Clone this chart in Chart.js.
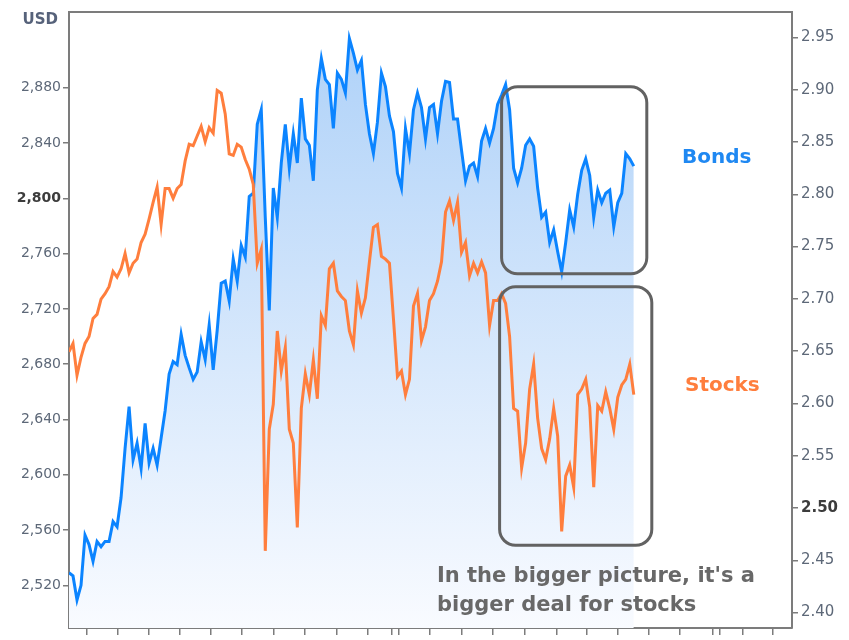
<!DOCTYPE html>
<html>
<head>
<meta charset="utf-8">
<script src="https://cdn.jsdelivr.net/npm/chart.js@4/dist/chart.umd.min.js"></script>
<style>
  html, body { margin: 0; padding: 0; background: #fff; }
  #wrap { position: relative; width: 849px; height: 640px; }
</style>
</head>
<body>
<div id="wrap"><canvas id="chart"></canvas></div>
<script>
// ============ DATA ============
// one sample every few minutes of trading, left to right
const stocks = [
  2689, 2695, 2672, 2685, 2695, 2700, 2713, 2716, 2727, 2731,
  2736, 2747, 2743, 2749, 2760, 2746, 2753, 2756, 2768, 2774,
  2785, 2797, 2808, 2781, 2807, 2807, 2800, 2807, 2810, 2827,
  2839, 2838, 2845, 2852, 2841, 2851, 2847, 2878, 2876, 2861,
  2832, 2831, 2839, 2837, 2828, 2821, 2810, 2753, 2763, 2545,
  2633, 2651, 2704, 2675, 2692, 2633, 2623, 2562, 2648, 2673,
  2658, 2683, 2655, 2715, 2708, 2749, 2753, 2733, 2729, 2726,
  2704, 2694, 2733, 2717, 2728, 2754, 2779, 2781, 2758, 2756,
  2753, 2713, 2671, 2675, 2658, 2669, 2722, 2731, 2697, 2707,
  2726, 2731, 2740, 2754, 2790, 2798, 2784, 2797, 2761, 2768,
  2744, 2753, 2746, 2754, 2746, 2708, 2726, 2726, 2731, 2724,
  2700, 2648, 2646, 2605, 2623, 2662, 2680, 2641, 2619, 2611,
  2626, 2648, 2628, 2559, 2599, 2607, 2591, 2658, 2662, 2669,
  2649, 2591, 2650, 2646, 2660, 2648, 2633, 2656, 2665, 2669,
  2680, 2658
];
const bonds = [
  2.438, 2.435, 2.412, 2.426, 2.474, 2.465, 2.449, 2.468, 2.463, 2.468,
  2.468, 2.487, 2.482, 2.510, 2.557, 2.597, 2.546, 2.562, 2.538, 2.581,
  2.543, 2.557, 2.541, 2.567, 2.593, 2.628, 2.640, 2.637, 2.666, 2.646,
  2.634, 2.623, 2.630, 2.659, 2.642, 2.675, 2.632, 2.670, 2.715, 2.717,
  2.698, 2.738, 2.717, 2.751, 2.740, 2.798, 2.801, 2.867, 2.881, 2.778,
  2.689, 2.806, 2.778, 2.830, 2.867, 2.825, 2.858, 2.830, 2.892, 2.853,
  2.847, 2.813, 2.900, 2.930, 2.910, 2.905, 2.863, 2.916, 2.910, 2.897,
  2.949, 2.935, 2.919, 2.928, 2.886, 2.858, 2.839, 2.869, 2.916, 2.903,
  2.875, 2.860, 2.820, 2.806, 2.863, 2.839, 2.881, 2.897, 2.883, 2.853,
  2.883, 2.886, 2.858, 2.889, 2.908, 2.907, 2.872, 2.872, 2.842, 2.813,
  2.827, 2.830, 2.817, 2.851, 2.863, 2.849, 2.863, 2.886, 2.895, 2.905,
  2.881, 2.825, 2.811, 2.825, 2.847, 2.853, 2.846, 2.806, 2.778, 2.783,
  2.754, 2.766, 2.745, 2.726, 2.754, 2.785, 2.769, 2.800, 2.823, 2.834,
  2.818, 2.778, 2.804, 2.792, 2.801, 2.804, 2.769, 2.792, 2.801, 2.839,
  2.834, 2.827
];
const sessions = stocks.map((_, i) => i);

const usdTicks = [2520, 2560, 2600, 2640, 2680, 2720, 2760, 2800, 2840, 2880];
const yieldTicks = [2.40, 2.45, 2.50, 2.55, 2.60, 2.65, 2.70, 2.75, 2.80, 2.85, 2.90, 2.95];
const timeTicks = [4.5, 12.25, 20, 27.75, 35.5, 43.25, 51, 58.75, 66.75, 74.5, 80.5, 82.25, 90,
  98, 105.75, 113.75, 121.75, 129.25, 137, 144.75, 152.5, 160.75, 162.5, 168.25, 175.75];

// ============ STYLE ============
const FONT = 'DejaVu Sans';
const FRAME = '#7c7c7c';
const TICK_TXT = '#5d6878';
const BLUE = '#0b84ff';
const ORANGE = '#ff7e3d';

function isBold(c, bold) {
  return c.tick && Math.abs(c.tick.value - bold) < 1e-6;
}
function tickFont(bold, size) {
  return c => ({ family: FONT, size, weight: isBold(c, bold) ? 'bold' : 'normal' });
}
function tickColor(bold) {
  return c => isBold(c, bold) ? '#3c3c3c' : TICK_TXT;
}

function roundBox(ctx, x0, y0, x1, y1, r) {
  ctx.beginPath();
  ctx.moveTo(x0 + r, y0);
  ctx.arcTo(x1, y0, x1, y1, r);
  ctx.arcTo(x1, y1, x0, y1, r);
  ctx.arcTo(x0, y1, x0, y0, r);
  ctx.arcTo(x0, y0, x1, y0, r);
  ctx.closePath();
  ctx.stroke();
}

// ============ OVERLAYS (frame, boxes, notes) ============
const overlays = {
  id: 'overlays',
  afterDraw(chart) {
    const { ctx, chartArea: a, scales } = chart;
    const sx = scales.x;
    ctx.save();
    ctx.strokeStyle = FRAME;
    ctx.lineWidth = 2;
    ctx.beginPath();
    ctx.moveTo(a.left - 1, a.top);
    ctx.lineTo(a.right + 1, a.top);
    ctx.stroke();

    // highlight boxes, in data units
    ctx.strokeStyle = '#626262';
    ctx.lineWidth = 3;
    roundBox(ctx, sx.getPixelForValue(108), scales.y2.getPixelForValue(2.903),
      sx.getPixelForValue(144.25), scales.y2.getPixelForValue(2.724), 16);
    roundBox(ctx, sx.getPixelForValue(107.5), scales.y.getPixelForValue(2736),
      sx.getPixelForValue(145.5), scales.y.getPixelForValue(2549), 16);

    ctx.textBaseline = 'middle';
    ctx.textAlign = 'left';
    ctx.font = `bold 20px "${FONT}"`;
    ctx.fillStyle = '#1f88f2';
    ctx.fillText('Bonds', 682, 158);
    ctx.fillStyle = ORANGE;
    ctx.fillText('Stocks', 685, 386);

    ctx.font = `bold 21px "${FONT}"`;
    ctx.fillStyle = '#686868';
    ctx.fillText("In the bigger picture, it's a", 437, 577);
    ctx.fillText('bigger deal for stocks', 437, 606);

    ctx.font = `bold 15px "${FONT}"`;
    ctx.fillStyle = '#56627a';
    ctx.textAlign = 'right';
    ctx.fillText('USD', 58, 20);
    ctx.restore();
  }
};

// ============ CHART ============
const canvas = document.getElementById('chart');
const g = canvas.getContext('2d');

new Chart(canvas, {
  type: 'line',
  data: {
    labels: sessions,
    datasets: [
      {
        label: 'Stocks', data: stocks, yAxisID: 'y',
        borderColor: ORANGE, borderWidth: 3, pointRadius: 0, tension: 0, fill: false
      },
      {
        label: 'Bonds', data: bonds, yAxisID: 'y2',
        borderColor: BLUE, borderWidth: 3, pointRadius: 0, tension: 0, fill: 'start',
        backgroundColor: c => {
          const area = c.chart.chartArea;
          if (!area) return 'rgba(180,210,248,0.6)';
          const grad = g.createLinearGradient(0, area.top, 0, area.bottom);
          grad.addColorStop(0, 'rgb(172,208,248)');
          grad.addColorStop(1, 'rgb(249,251,255)');
          return grad;
        }
      }
    ]
  },
  options: {
    responsive: true,
    maintainAspectRatio: false,
    animation: false,
    devicePixelRatio: 1,
    layout: { padding: { top: 6, left: 0, right: 0, bottom: 0 } },
    plugins: { legend: { display: false }, tooltip: { enabled: false } },
    scales: {
      x: {
        type: 'linear', min: 0, max: 180.5,
        afterBuildTicks: s => { s.ticks = timeTicks.map(v => ({ value: v })); },
        afterFit: s => { s.height = 7; },
        ticks: { display: false, autoSkip: false },
        grid: { drawOnChartArea: false, tickLength: 7, color: FRAME, lineWidth: 1.5 },
        border: { display: true, color: FRAME, width: 2 }
      },
      y: {
        position: 'left', min: 2489.2, max: 2934.7,
        afterBuildTicks: s => { s.ticks = usdTicks.map(v => ({ value: v })); },
        afterFit: s => { s.width = 69; },
        ticks: {
          padding: 2, font: tickFont(2800, 14), color: tickColor(2800),
          callback: v => v.toLocaleString('en-US')
        },
        grid: { drawOnChartArea: false, tickLength: 6, color: FRAME, lineWidth: 1.5 },
        border: { display: true, color: FRAME, width: 2 }
      },
      y2: {
        position: 'right', min: 2.3852, max: 2.9744,
        afterBuildTicks: s => { s.ticks = yieldTicks.map(v => ({ value: v })); },
        afterFit: s => { s.width = 57; },
        ticks: {
          padding: 3, font: tickFont(2.5, 15), color: tickColor(2.5),
          callback: v => v.toFixed(2)
        },
        grid: { drawOnChartArea: false, tickLength: 6, color: FRAME, lineWidth: 1.5 },
        border: { display: true, color: FRAME, width: 2 }
      }
    }
  },
  plugins: [overlays]
});
</script>
</body>
</html>
